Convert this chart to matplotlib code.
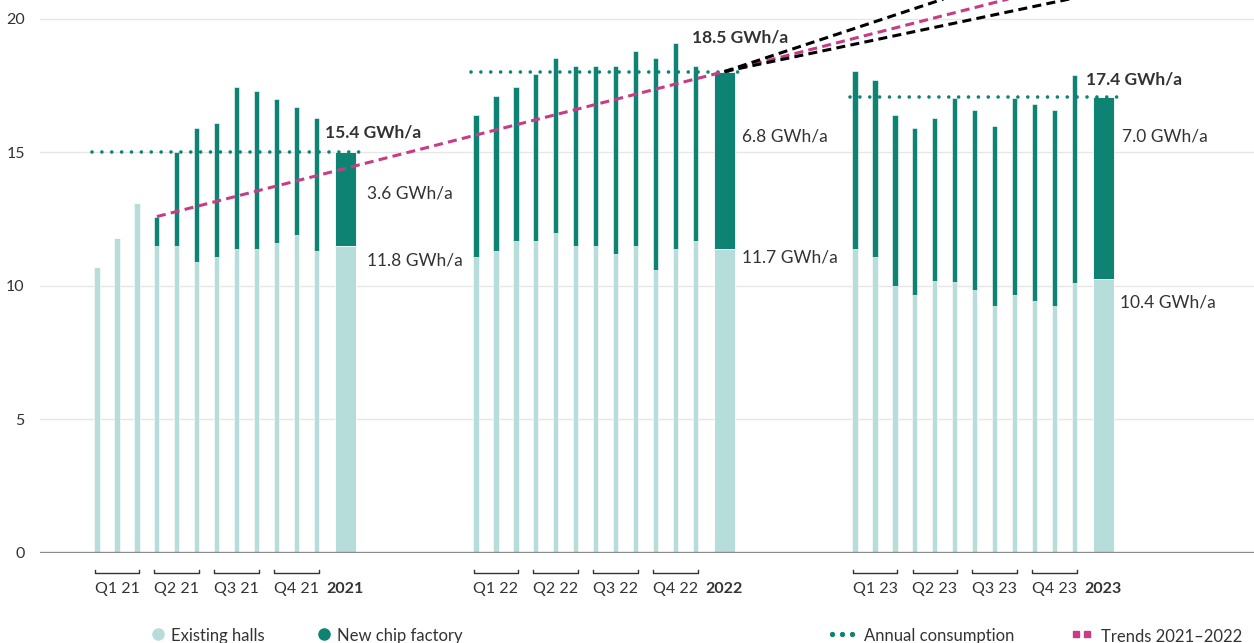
import matplotlib.pyplot as plt
import numpy as np

plt.rcParams['font.family'] = ['Lato', 'DejaVu Sans']
plt.rcParams['lines.scale_dashes'] = False

years = ["21", "22", "23"]
year_names = ["2021", "2022", "2023"]

# monthly consumption in GWh/a (existing halls and total incl. new chip factory)
existing_21 = [10.7, 11.8, 13.1, 11.5, 11.5, 10.9, 11.1, 11.4, 11.4, 11.6, 11.9, 11.3]
total_21 = [10.7, 11.8, 13.1, 12.6, 15.0, 15.9, 16.1, 17.45, 17.3, 17.0, 16.7, 16.3]
existing_22 = [11.1, 11.3, 11.7, 11.7, 12.0, 11.5, 11.5, 11.2, 11.5, 10.6, 11.4, 11.7]
total_22 = [16.4, 17.1, 17.45, 17.95, 18.55, 18.25, 18.25, 18.25, 18.8, 18.55, 19.1, 18.25]
existing_23 = [11.4, 11.1, 10.0, 9.65, 10.2, 10.15, 9.85, 9.25, 9.65, 9.45, 9.25, 10.1]
total_23 = [18.05, 17.7, 16.4, 15.9, 16.3, 17.05, 16.6, 16.0, 17.05, 16.8, 16.6, 17.9]

# annual bars
annual_existing = [11.5, 11.4, 10.25]
annual_total = [15.0, 18.03, 17.07]

# labels written on the chart
total_labels = ["15.4 GWh/a", "18.5 GWh/a", "17.4 GWh/a"]
new_labels = ["3.6 GWh/a", "6.8 GWh/a", "7.0 GWh/a"]
existing_labels = ["11.8 GWh/a", "11.7 GWh/a", "10.4 GWh/a"]

# trend: from Apr 21 to 2022 annual, plus a fan of two projections
trend_fan_end = [24.6, 22.2]   # values at the right edge of the plot

existing_all = [existing_21, existing_22, existing_23]
total_all = [total_21, total_22, total_23]

dark = "#0e8273"
light = "#b6ddd9"
pink = "#c63d86"
txt = "#333333"

fig = plt.figure(figsize=(12.54, 6.43), dpi=100)
ax = fig.add_axes([40 / 1254, 90 / 643, 1214 / 1254, 553 / 643])
ax.set_xlim(-2.86, 58.0)
ax.set_ylim(0, 20.71)
for s in ax.spines.values():
    s.set_visible(False)

ax.set_yticks([0, 5, 10, 15, 20])
ax.tick_params(axis='y', length=0, pad=11, labelsize=11.5, labelcolor=txt)
ax.set_xticks([])
ax.yaxis.grid(True, color="#e6e6e6", lw=1)
ax.set_axisbelow(True)
ax.axhline(0, color="#8c8c8c", lw=1.7, zorder=4)

step = 19
annual_pos = 12.45
for k in range(3):
    off = k * step
    mx = off + np.arange(12)
    ex = np.array(existing_all[k])
    new = np.array(total_all[k]) - ex
    ax.bar(mx, ex, width=0.26, color=light, edgecolor="white", lw=0.4, zorder=2)
    ax.bar(mx, new, bottom=ex, width=0.26, color=dark, edgecolor="white", lw=0.4, zorder=2)
    ax_x = off + annual_pos
    ax.bar(ax_x, annual_existing[k], width=1.05, color=light, edgecolor="white", lw=0.6, zorder=2)
    ax.bar(ax_x, annual_total[k] - annual_existing[k], bottom=annual_existing[k], width=1.05,
           color=dark, edgecolor="white", lw=0.6, zorder=2)

    # annual consumption dotted line
    ax.plot([off - 0.25, off + 13.5], [annual_total[k]] * 2, color=dark, lw=2.6,
            linestyle=(0, (0.01, 7.1)), dash_capstyle='round', zorder=3)

    # quarter brackets
    for q in range(4):
        x0 = off + 3 * q - 0.12
        x1 = off + 3 * q + 2 + 0.12
        ax.plot([x0, x0, x1, x1], [-0.65, -0.76, -0.76, -0.65], color=txt, lw=1,
                clip_on=False)
        ax.text((x0 + x1) / 2, -1.36, f"Q{q + 1} {years[k]}", ha='center', va='center',
                fontsize=11.5, color=txt, clip_on=False)
    ax.text(ax_x, -1.36, year_names[k], ha='center', va='center', fontsize=11.5,
            fontweight='bold', color=txt, clip_on=False)

# value labels
bold_pos = [(11.43, 15.73), (29.82, 19.29), (49.57, 17.75)]
new_pos = [(13.53, 13.48), (32.32, 15.58), (51.38, 15.58)]
ex_pos = [(13.53, 10.97), (32.32, 11.05), (51.3, 9.4)]
for k in range(3):
    ax.text(*bold_pos[k], total_labels[k], ha='left', va='center', fontsize=12.5,
            fontweight='bold', color=txt)
    ax.text(*new_pos[k], new_labels[k], ha='left', va='center', fontsize=12.5, color=txt)
    ax.text(*ex_pos[k], existing_labels[k], ha='left', va='center', fontsize=12.5, color=txt)

# trends
x_start, y_start = 3, total_21[3]
x_mid, y_mid = step + annual_pos, annual_total[1]
x_end = 58.0
slope = (y_mid - y_start) / (x_mid - x_start)
ax.plot([x_start, x_end], [y_start, y_start + slope * (x_end - x_start)], color=pink,
        lw=2.2, linestyle=(0, (6.5, 3.8)), zorder=5)
for v in trend_fan_end:
    ax.plot([x_mid, x_end], [y_mid, v], color="black", lw=2.2,
            linestyle=(0, (6.5, 3.8)), zorder=6)

# legend drawn at the bottom
ly = (643 - 633.5) / 643
ty = (643 - 641.5) / 643
def fx(px):
    return px / 1254

ax.plot([fx(158)], [ly], marker='o', ms=8, color=light, transform=fig.transFigure, clip_on=False)
fig.text(fx(171), ty, "Existing halls", fontsize=12, color=txt, va='baseline')
ax.plot([fx(324)], [ly], marker='o', ms=8, color=dark, transform=fig.transFigure, clip_on=False)
fig.text(fx(337), ty, "New chip factory", fontsize=12, color=txt, va='baseline')
ax.plot([fx(p) for p in (831.5, 841.5, 851.5)], [ly] * 3, 'o', ms=2.8, color=dark,
        transform=fig.transFigure, clip_on=False)
fig.text(fx(864), ty, "Annual consumption", fontsize=12, color=txt, va='baseline')
ax.plot([fx(p) for p in (1075.5, 1086.5)], [ly] * 2, 's', ms=3.8, color=pink,
        transform=fig.transFigure, clip_on=False)
fig.text(fx(1101), ty, "Trends 2021\u20132022", fontsize=12, color=txt, va='baseline')

fig.savefig("out.png", dpi=100)
